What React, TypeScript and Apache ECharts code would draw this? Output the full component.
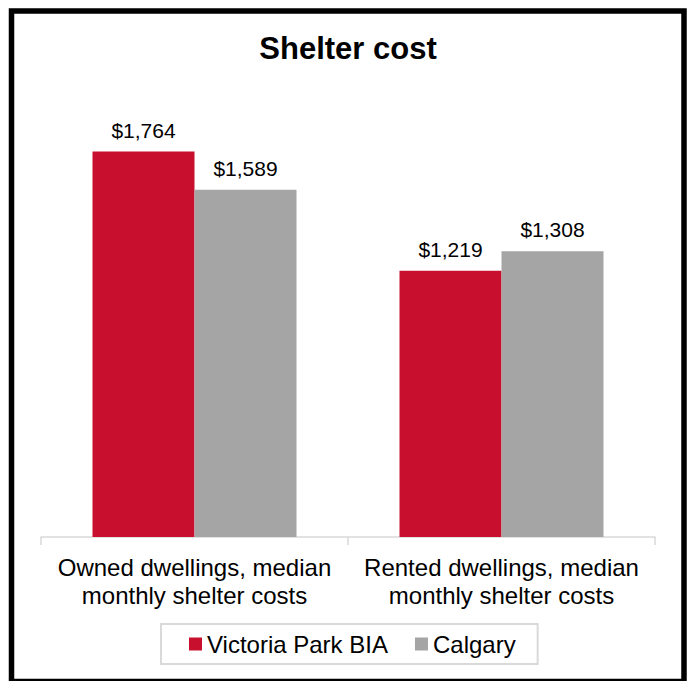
import React, { useEffect, useRef } from "react";
import * as echarts from "echarts";

const categories = [
  "Owned dwellings, median monthly shelter costs",
  "Rented dwellings, median monthly shelter costs",
];
const seriesNames = ["Victoria Park BIA", "Calgary"];
const victoriaPark = [1764, 1219];
const calgary = [1589, 1308];
const colors = ["#C8102E", "#A5A5A5"];

const fmt = (v: number) => "$" + v.toLocaleString("en-US");

export default function App() {
  const ref = useRef<HTMLDivElement>(null);
  useEffect(() => {
    if (!ref.current) return;
    const chart = echarts.init(ref.current, null, { renderer: "svg" });
    const font = "Liberation Sans, Arial, sans-serif";
    const labelCfg = {
      show: true,
      position: "top",
      distance: 11,
      fontSize: 21,
      fontFamily: font,
      color: "#000",
      formatter: (p: any) => fmt(p.value),
    };
    chart.setOption({
      animation: false,
      backgroundColor: "#fff",
      title: {
        text: "Shelter cost",
        left: 348,
        textAlign: "center",
        top: 33,
        padding: 0,
        textStyle: { fontSize: 31, fontWeight: "bold", fontFamily: font, color: "#000" },
      },
      grid: { left: 41, right: 36, top: 100, bottom: 144, containLabel: false },
      xAxis: {
        type: "category",
        data: categories,
        axisLine: { lineStyle: { color: "#D9D9D9", width: 1.5 } },
        axisTick: { show: true, length: 8, lineStyle: { color: "#D9D9D9", width: 1.5 } },
        axisLabel: {
          fontSize: 24,
          lineHeight: 28,
          fontFamily: font,
          color: "#000",
          margin: 16,
          interval: 0,
          formatter: (v: string) => v.replace(" monthly", "\nmonthly"),
        },
      },
      yAxis: {
        type: "value",
        min: 0,
        max: 2000,
        show: false,
        splitLine: { show: false },
      },
      legend: {
        data: seriesNames,
        left: 161,
        top: 624,
        icon: "rect",
        itemWidth: 13,
        itemHeight: 13,
        itemGap: 27,
        padding: [8, 22, 8, 28],
        borderColor: "#D9D9D9",
        borderWidth: 2,
        textStyle: { fontSize: 24, fontFamily: font, color: "#000" },
      },
      series: [
        {
          name: seriesNames[0],
          type: "bar",
          data: victoriaPark,
          barWidth: 102,
          barGap: "0%",
          itemStyle: { color: colors[0] },
          label: labelCfg,
        },
        {
          name: seriesNames[1],
          type: "bar",
          data: calgary,
          barWidth: 102,
          barGap: "0%",
          itemStyle: { color: colors[1] },
          label: labelCfg,
        },
      ],
      graphic: [
        {
          type: "rect",
          silent: true,
          z: 100,
          shape: { x: 11.5, y: 11, width: 672.5, height: 670.5 },
          style: { fill: "none", stroke: "#000", lineWidth: 5.5 },
        },
      ],
    });
    return () => chart.dispose();
  }, []);
  return (
    <div
      ref={ref}
      style={{ position: "fixed", left: 0, top: 0, width: 691, height: 681 }}
    />
  );
}
